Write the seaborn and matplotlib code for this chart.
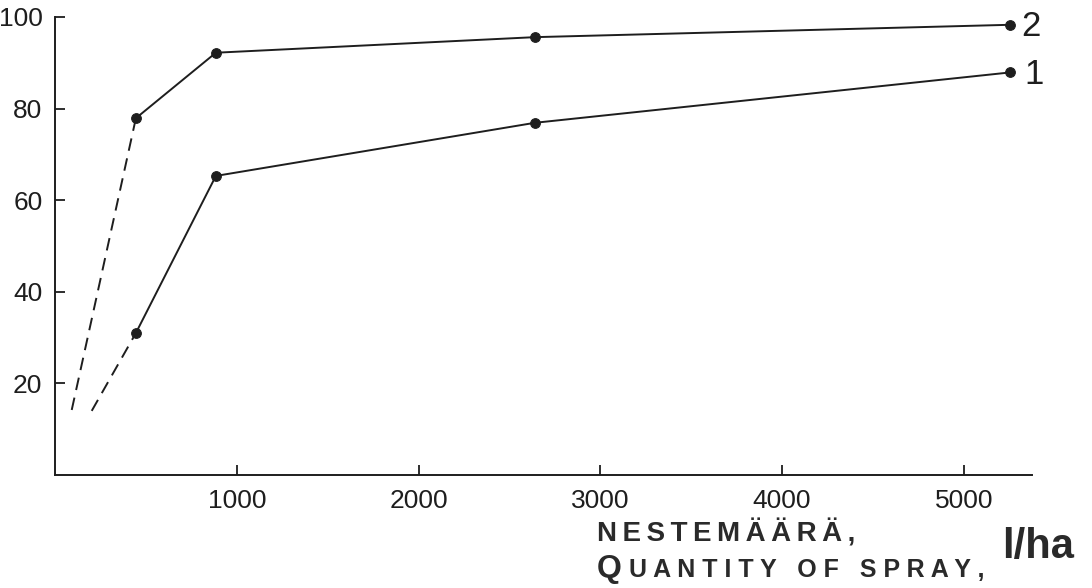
import matplotlib
matplotlib.use("Agg")
import matplotlib.pyplot as plt
import seaborn as sns
import pandas as pd

# values
spray = [445, 885, 2640, 5255]
curve1 = [31, 65.3, 76.9, 87.9]
curve2 = [77.9, 92.2, 95.6, 98.3]

# dashed extrapolation towards the origin
ext_x1 = [202, 445]
ext_y1 = [14.0, 31]
ext_x2 = [92, 445]
ext_y2 = [14.2, 77.9]

xticks = [1000, 2000, 3000, 4000, 5000]
yticks = [20, 40, 60, 80, 100]

df = pd.DataFrame({
    "spray": spray * 2,
    "value": curve1 + curve2,
    "curve": ["1"] * 4 + ["2"] * 4,
})
ext = pd.DataFrame({
    "spray": ext_x1 + ext_x2,
    "value": ext_y1 + ext_y2,
    "curve": ["1"] * 2 + ["2"] * 2,
})

sns.set_style("white")
plt.rcParams["font.family"] = ["Liberation Sans", "DejaVu Sans"]

W, H = 1092, 588
fig = plt.figure(figsize=(W / 100, H / 100), dpi=100)
ax = fig.add_axes([55 / W, (H - 475) / H, (1032 - 55) / W, (475 - 17) / H])

ink = "#1e1e1e"
sns.lineplot(data=df, x="spray", y="value", units="curve", estimator=None,
             color=ink, lw=1.4, marker="o", markersize=7,
             markeredgecolor=ink, ax=ax)
sns.lineplot(data=ext, x="spray", y="value", units="curve", estimator=None,
             color=ink, lw=1.4, linestyle=(0, (6.5, 4)), ax=ax)

ax.set_xlim(0, 5375)
ax.set_ylim(0, 100)
ax.set_xticks(xticks)
ax.set_yticks(yticks)
ax.set_xticklabels([str(t) for t in xticks])
ax.set_yticklabels([str(t) for t in yticks])
ax.set_xlabel("")
ax.set_ylabel("")
for s in ["top", "right"]:
    ax.spines[s].set_visible(False)
for s in ["left", "bottom"]:
    ax.spines[s].set_color(ink)
    ax.spines[s].set_linewidth(1.4)
ax.tick_params(axis="both", direction="in", length=7, width=1.3,
               colors=ink, labelsize=19, pad=9, bottom=True, left=True)
ax.tick_params(axis="x", pad=10)
ax.patch.set_alpha(0)

def px(x, y):
    return x / W, 1 - y / H

# curve labels
fig.text(*px(1021, 36), "2", fontsize=25, color=ink, va="baseline")
fig.text(*px(1024, 84), "1", fontsize=25, color=ink, va="baseline")

# axis title in two languages
ts = "\u2009"
fig.text(*px(597, 542), ts.join("NESTEMÄÄRÄ,"), fontsize=20,
         fontweight="bold", color="#2a2a2a", va="baseline")
fig.text(*px(597, 577), "Q", fontsize=23, fontweight="bold",
         color="#2a2a2a", va="baseline")
fig.text(*px(629, 577), " ".join("UANTITY") + "   " + " ".join("OF") + "   "
         + " ".join("SPRAY,"), fontsize=18, fontweight="bold",
         color="#2a2a2a", va="baseline")
fig.text(*px(1002, 558), "l/ha", fontsize=30, fontweight="bold",
         color="#2a2a2a", va="baseline")

fig.savefig("out.png", dpi=100)
